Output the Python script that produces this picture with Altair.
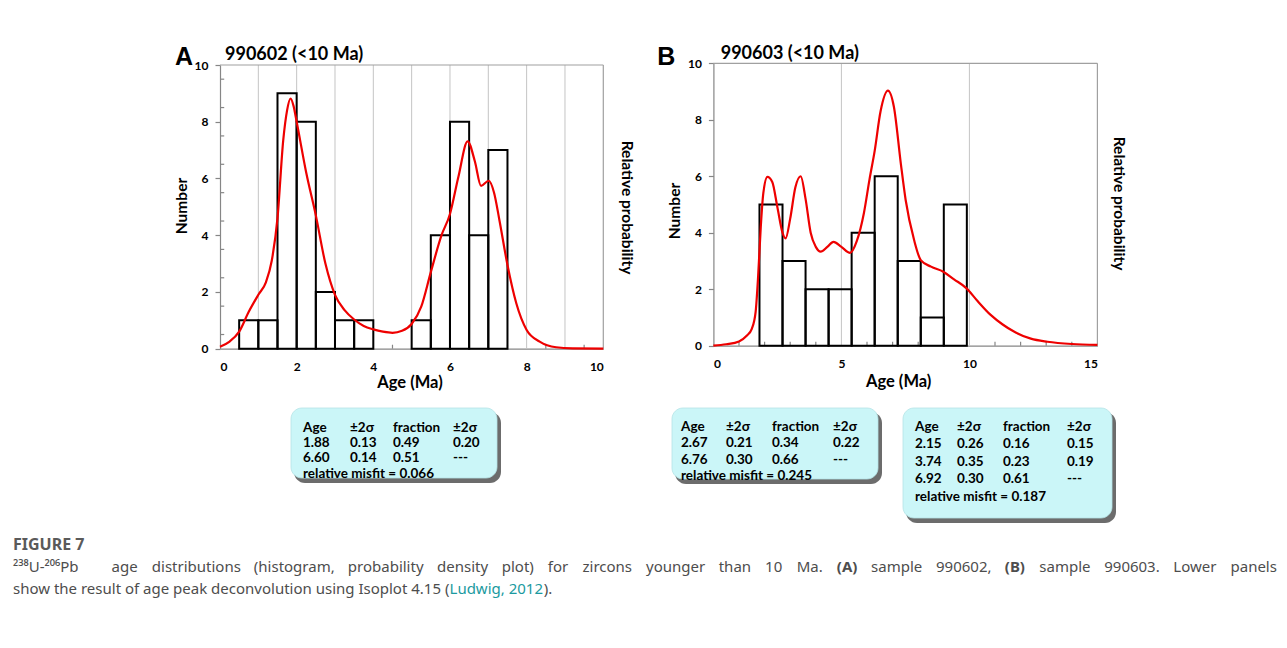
import altair as alt
import pandas as pd

# ---------------- data ----------------
# Panel A : sample 990602, histogram (bin width 0.5 Ma)
a_bin_left = [0.5, 1.0, 1.5, 2.0, 2.5, 3.0, 3.5, 5.0, 5.5, 6.0, 6.5, 7.0]
a_counts = [1, 1, 9, 8, 2, 1, 1, 1, 4, 8, 4, 7]
a_bin_width = 0.5

# Panel A : probability density curve
a_pdf_age = [0.0, 0.25, 0.5, 0.75, 1.0, 1.2, 1.35, 1.5, 1.65, 1.75, 1.84, 1.92, 2.0,
             2.25, 2.5, 2.75, 3.0, 3.25, 3.5, 3.75, 4.0, 4.25, 4.5, 4.75, 5.0, 5.25,
             5.5, 5.78, 6.0, 6.22, 6.46, 6.65, 6.81, 7.01, 7.15, 7.29, 7.5, 7.73,
             8.0, 8.34, 8.77, 9.2, 10.0]
a_pdf_val = [0.07, 0.25, 0.6, 1.3, 1.9, 2.35, 3.1, 4.6, 7.35, 8.4, 8.82, 8.55, 8.0,
             6.2, 4.7, 3.0, 1.9, 1.36, 1.03, 0.8, 0.68, 0.6, 0.56, 0.63, 0.87, 1.48,
             2.7, 4.0, 4.75, 6.06, 7.31, 6.6, 5.74, 5.92, 5.5, 4.53, 2.95, 1.6,
             0.66, 0.25, 0.05, 0.01, 0.0]

# Panel B : sample 990603, histogram
b_bin_edges = [1.8, 2.7, 3.6, 4.5, 5.4, 6.3, 7.2, 8.1, 9.0, 9.9]
b_counts = [5, 3, 2, 2, 4, 6, 3, 1, 5]

# Panel B : probability density curve
b_pdf_age = [0.0, 0.5, 1.0, 1.3, 1.5, 1.65, 1.75, 1.85, 1.95, 2.11, 2.3, 2.5, 2.7,
             2.82, 3.0, 3.2, 3.41, 3.6, 3.8, 4.0, 4.19, 4.45, 4.69, 5.0, 5.34, 5.6,
             5.88, 6.1, 6.3, 6.53, 6.82, 7.05, 7.32, 7.51, 7.84, 8.1, 8.5, 8.98,
             9.4, 9.89, 10.3, 10.83, 11.3, 11.74, 12.4, 13.05, 14.0, 15.0]
b_pdf_val = [0.0, 0.05, 0.15, 0.35, 0.6, 1.2, 2.5, 4.2, 5.4, 5.98, 5.8, 4.9, 4.0,
             3.8, 4.5, 5.6, 6.0, 5.2, 4.0, 3.5, 3.33, 3.5, 3.68, 3.5, 3.29, 3.7,
             4.7, 5.9, 6.9, 8.3, 9.03, 8.46, 6.46, 5.16, 3.74, 3.03, 2.8, 2.62,
             2.35, 2.03, 1.6, 1.09, 0.75, 0.5, 0.25, 0.14, 0.06, 0.03]

# Deconvolution tables
tbl_header = ["Age", "\u00b12\u03c3", "fraction", "\u00b12\u03c3"]
a_tbl_age = ["1.88", "6.60"]
a_tbl_err = ["0.13", "0.14"]
a_tbl_frac = ["0.49", "0.51"]
a_tbl_ferr = ["0.20", "---"]
a_misfit = "0.066"

b1_tbl_age = ["2.67", "6.76"]
b1_tbl_err = ["0.21", "0.30"]
b1_tbl_frac = ["0.34", "0.66"]
b1_tbl_ferr = ["0.22", "---"]
b1_misfit = "0.245"

b2_tbl_age = ["2.15", "3.74", "6.92"]
b2_tbl_err = ["0.26", "0.35", "0.30"]
b2_tbl_frac = ["0.16", "0.23", "0.61"]
b2_tbl_ferr = ["0.15", "0.19", "---"]
b2_misfit = "0.187"

# Caption
cap_title = "FIGURE 7"
cap_line1 = ("\u00b2\u00b3\u2078U-\u00b2\u2070\u2076Pb age distributions (histogram, probability "
             "density plot) for zircons younger than 10 Ma. (A) sample 990602, (B) sample "
             "990603. Lower panels")
cap_bold_words = ["(A)", "(B)"]
cap_line2_a = "show the result of age peak deconvolution using Isoplot 4.15 ("
cap_link = "Ludwig, 2012"
cap_line2_b = ")."

# ---------------- layout ----------------
FONT = "Lato"
LBL = "Liberation Sans"
CAP = "Noto Sans"
AXC = "#868686"

A_ORG = (220.0, 65.0)        # page position of panel A plot origin
B_ORG = (712.7, 65.0)        # page position of panel B group origin
A_W, A_H = 383.3, 283.7
B_W, B_H = 384.0, 282.4
B_SHIFT = 1.7                # panel B plot sits 1.7 px higher than panel A


def text(t, px, py, org, size, weight="bold", font=FONT, color="black", angle=0,
         align="left", baseline="middle"):
    return alt.Chart(pd.DataFrame({"t": [t]})).mark_text(
        font=font, fontSize=size, fontWeight=weight, color=color, angle=angle,
        align=align, baseline=baseline).encode(
        x=alt.value(px - org[0]), y=alt.value(py - org[1]), text="t:N")


def panel(bars, pdf, grid_vals, xmax, w, h, yr, x_labels, x_minor, y_minor, x_off):
    xs = alt.Scale(domain=[0, xmax], range=[0, w], nice=False, zero=False)
    ys = alt.Scale(domain=[0, 10], range=yr, nice=False, zero=False)
    x_axis = alt.Axis(orient="bottom", offset=x_off, values=x_labels, format="d",
                      grid=False, title=None, domainColor=AXC, domainWidth=1.2,
                      ticks=True, tickSize=0, tickColor="#ffffff00", labelOverlap=False,
                      labelFont=FONT, labelFontWeight="bold", labelFontSize=12,
                      labelColor="black", labelPadding=13)
    y_axis = alt.Axis(orient="left", values=list(range(0, 11)), format="d",
                      grid=False, title=None, domainColor=AXC, domainWidth=1.2,
                      ticks=True, tickSize=5, tickColor=AXC, tickWidth=1.2,
                      labelOverlap=False,
                      labelFont=FONT, labelFontWeight="bold", labelFontSize=12,
                      labelColor="black", labelPadding=7)

    # all layers share the scales; only the histogram layer defines the axes
    grid_df = pd.DataFrame({"g": grid_vals, "lo": 0, "hi": 10})
    grid = alt.Chart(grid_df).mark_rule(color="#c4c4c4", strokeWidth=1).encode(
        x=alt.X("g:Q", scale=xs), y=alt.Y("lo:Q", scale=ys), y2="hi:Q")

    xm_df = pd.DataFrame({"m": x_minor, "lo": 0, "hi": 0.14})
    xminor = alt.Chart(xm_df).mark_rule(color=AXC, strokeWidth=1.2).encode(
        x=alt.X("m:Q", scale=xs), y=alt.Y("lo:Q", scale=ys), y2="hi:Q")

    layers = [grid, xminor]
    if y_minor:
        ym_df = pd.DataFrame({"m": y_minor, "lo": 0, "hi": xmax * 0.011})
        yminor = alt.Chart(ym_df).mark_rule(color=AXC, strokeWidth=1.2).encode(
            y=alt.Y("m:Q", scale=ys), x=alt.X("lo:Q", scale=xs), x2="hi:Q")
        layers.append(yminor)

    frame_df = pd.DataFrame({"fx": [0, xmax], "fx2": [xmax, xmax],
                             "fy": [10, 0], "fy2": [10, 10]})
    frame = alt.Chart(frame_df).mark_rule(color="#a0a0a0", strokeWidth=1.2).encode(
        x=alt.X("fx:Q", scale=xs), x2="fx2:Q", y=alt.Y("fy:Q", scale=ys), y2="fy2:Q")

    hist = alt.Chart(bars).mark_rect(fill="white", fillOpacity=0, stroke="black",
                                     strokeWidth=2).encode(
        x=alt.X("lo:Q", scale=xs, axis=x_axis), x2="hi:Q",
        y=alt.Y("n:Q", scale=ys, axis=y_axis), y2="z:Q")

    curve = alt.Chart(pdf).mark_line(color="#ee0000", strokeWidth=2.2,
                                     interpolate="monotone").encode(
        x=alt.X("age:Q", scale=xs), y=alt.Y("p:Q", scale=ys), order="age:Q")

    return layers + [frame, hist, curve]


a_bars = pd.DataFrame({"lo": a_bin_left,
                       "hi": [v + a_bin_width for v in a_bin_left],
                       "n": a_counts, "z": 0})
a_pdf = pd.DataFrame({"age": a_pdf_age, "p": a_pdf_val})
b_bars = pd.DataFrame({"lo": b_bin_edges[:-1], "hi": b_bin_edges[1:], "n": b_counts, "z": 0})
b_pdf = pd.DataFrame({"age": b_pdf_age, "p": b_pdf_val})

a_layers = panel(a_bars, a_pdf, list(range(1, 10)), 10, A_W, A_H, [A_H, 0],
                 list(range(0, 11)), [i + 0.5 for i in range(10)],
                 [i + 0.5 for i in range(10)], 0)
b_layers = panel(b_bars, b_pdf, [5, 10], 15, B_W, B_H, [B_H - B_SHIFT, -B_SHIFT],
                 [0, 5, 10, 15], [i for i in range(1, 15) if i % 5], [], -B_SHIFT)

# invisible anchor covering the whole page area, fixes the absolute placement
anchor = alt.Chart(pd.DataFrame({"k": [0]})).mark_rect(opacity=0).encode(
    x=alt.value(8 - A_ORG[0]), x2=alt.value(1279 - A_ORG[0]),
    y=alt.value(8 - A_ORG[1]), y2=alt.value(640 - A_ORG[1]))

a_text = [
    text("A", 175, 65, A_ORG, 25, font=LBL, baseline="alphabetic"),
    text("990602 (<10 Ma)", 225, 60, A_ORG, 18, baseline="alphabetic"),
    text("Number", 182, 206, A_ORG, 15.5, angle=270, align="center"),
    text("Relative probability", 626.5, 207.5, A_ORG, 15.5, angle=90, align="center"),
    text("Age (Ma)", 410, 383, A_ORG, 16.5, align="center"),
]
b_text = [
    text("B", 656.5, 65, B_ORG, 25, font=LBL, baseline="alphabetic"),
    text("990603 (<10 Ma)", 720, 59.3, B_ORG, 18, baseline="alphabetic"),
    text("Number", 674, 211, B_ORG, 15.5, angle=270, align="center"),
    text("Relative probability", 1118.5, 203.5, B_ORG, 15.5, angle=90, align="center"),
    text("Age (Ma)", 898, 382, B_ORG, 16.5, align="center"),
]


# ---------------- deconvolution boxes ----------------
def box(x0, y0, x1, y1):
    o = A_ORG
    shadow = alt.Chart(pd.DataFrame({"k": [0]})).mark_rect(
        color="#474747", opacity=0.8, cornerRadius=11).encode(
        x=alt.value(x0 + 3 - o[0]), x2=alt.value(x1 + 4 - o[0]),
        y=alt.value(y0 + 4 - o[1]), y2=alt.value(y1 + 5 - o[1]))
    face = alt.Chart(pd.DataFrame({"k": [0]})).mark_rect(
        color="#cbf6f8", cornerRadius=11, stroke="#b5e3e6", strokeWidth=0.8).encode(
        x=alt.value(x0 - o[0]), x2=alt.value(x1 - o[0]),
        y=alt.value(y0 - o[1]), y2=alt.value(y1 - o[1]))
    return [shadow, face]


def table(x0, y0, cols, dy, ages, errs, fracs, ferrs, misfit, size):
    rows = [tbl_header] + [list(r) for r in zip(ages, errs, fracs, ferrs)]
    recs = []
    for i, row in enumerate(rows):
        for j, cell in enumerate(row):
            recs.append({"t": cell, "px": x0 + cols[j] - A_ORG[0],
                         "py": y0 + i * dy - A_ORG[1]})
    recs.append({"t": "relative misfit = " + misfit, "px": x0 + cols[0] - A_ORG[0],
                 "py": y0 + len(rows) * dy - A_ORG[1]})
    df = pd.DataFrame(recs)
    return alt.Chart(df).mark_text(font=FONT, fontSize=size, fontWeight="bold",
                                   color="black", align="left", baseline="middle").encode(
        x=alt.X("px:Q", scale=None, axis=None),
        y=alt.Y("py:Q", scale=None, axis=None), text="t:N")


boxes = (box(291, 408, 497, 478) + box(672, 408, 878, 479) + box(903, 408, 1112, 518))
tables = [
    table(303, 428, [0, 47, 90, 150], 15.2, a_tbl_age, a_tbl_err, a_tbl_frac,
          a_tbl_ferr, a_misfit, 13.5),
    table(681, 427, [0, 45, 91, 152], 16.3, b1_tbl_age, b1_tbl_err, b1_tbl_frac,
          b1_tbl_ferr, b1_misfit, 13.5),
    table(915, 427, [0, 42, 88, 152], 17.4, b2_tbl_age, b2_tbl_err, b2_tbl_frac,
          b2_tbl_ferr, b2_misfit, 13.5),
]

# ---------------- caption (justified first line, like the journal page) ----------------
CC = "#4d4d4d"
CAP_SIZE = 15
EM = {" ": .26, "a": .561, "b": .615, "c": .48, "d": .615, "e": .564, "f": .344, "g": .615,
      "h": .618, "i": .258, "j": .258, "k": .533, "l": .258, "m": .94, "n": .618, "o": .605,
      "p": .615, "q": .615, "r": .413, "s": .479, "t": .361, "u": .618, "v": .508,
      "w": .786, "x": .529, "y": .508, "z": .473, "(": .296, ")": .296, ",": .25,
      ".": .268, "-": .322, "A": .639, "B": .655, "L": .524, "M": .907, "P": .603,
      "U": .733, "I": .292}


def em_width(s, bold=False):
    w = sum(EM.get(c, .572 if c.isdigit() else .17) for c in s)
    return w * (1.08 if bold else 1.0)


# calibration: the whole first line measured 1147 px at 16.5 px in the browser
CAL = 1147.0 / (em_width(cap_line1) * 16.5)


def px_width(s, bold=False):
    return em_width(s, bold) * CAP_SIZE * CAL


words = cap_line1.split(" ")
X0, X1 = 13.0, 1276.0        # keep the last word inside the page
nat = sum(px_width(wd, wd in cap_bold_words) for wd in words)
gap = (X1 - X0 - nat) / (len(words) - 1)
recs_n, recs_b = [], []
cx = X0
for wd in words:
    rec = {"t": wd, "px": cx - A_ORG[0], "py": 567 - A_ORG[1]}
    (recs_b if wd in cap_bold_words else recs_n).append(rec)
    cx += px_width(wd, wd in cap_bold_words) + gap

x_link = X0 + px_width(cap_line2_a) + 9
x_end = x_link + px_width(cap_link) + 3
recs_n.append({"t": cap_line2_a, "px": X0 - A_ORG[0], "py": 589 - A_ORG[1]})
recs_n.append({"t": cap_line2_b, "px": x_end - A_ORG[0], "py": 589 - A_ORG[1]})


def cap_layer(recs, weight, color):
    return alt.Chart(pd.DataFrame(recs)).mark_text(
        font=CAP, fontSize=CAP_SIZE, fontWeight=weight, color=color, align="left",
        baseline="middle").encode(
        x=alt.X("px:Q", scale=None, axis=None),
        y=alt.Y("py:Q", scale=None, axis=None), text="t:N")


caption = [
    text(cap_title, 13, 545, A_ORG, 16, weight="bold", font=CAP, color="#5a5a5a"),
    cap_layer(recs_n, "normal", CC),
    cap_layer(recs_b, "bold", CC),
    cap_layer([{"t": cap_link, "px": x_link - A_ORG[0], "py": 589 - A_ORG[1]}],
              "normal", "#1b9aa0"),
]

panel_a = alt.layer(anchor, *a_layers, *a_text, *boxes, *tables, *caption).properties(
    width=A_W, height=A_H)
panel_b = alt.layer(*b_layers, *b_text).properties(width=B_W, height=B_H)

chart = alt.hconcat(panel_a, panel_b, spacing=B_ORG[0] - A_ORG[0] - A_W,
                    bounds="flush").properties(padding=0, background="white"
                                               ).configure_view(stroke=None)

chart.save("out.html", embed_options={"renderer": "svg", "actions": False})
